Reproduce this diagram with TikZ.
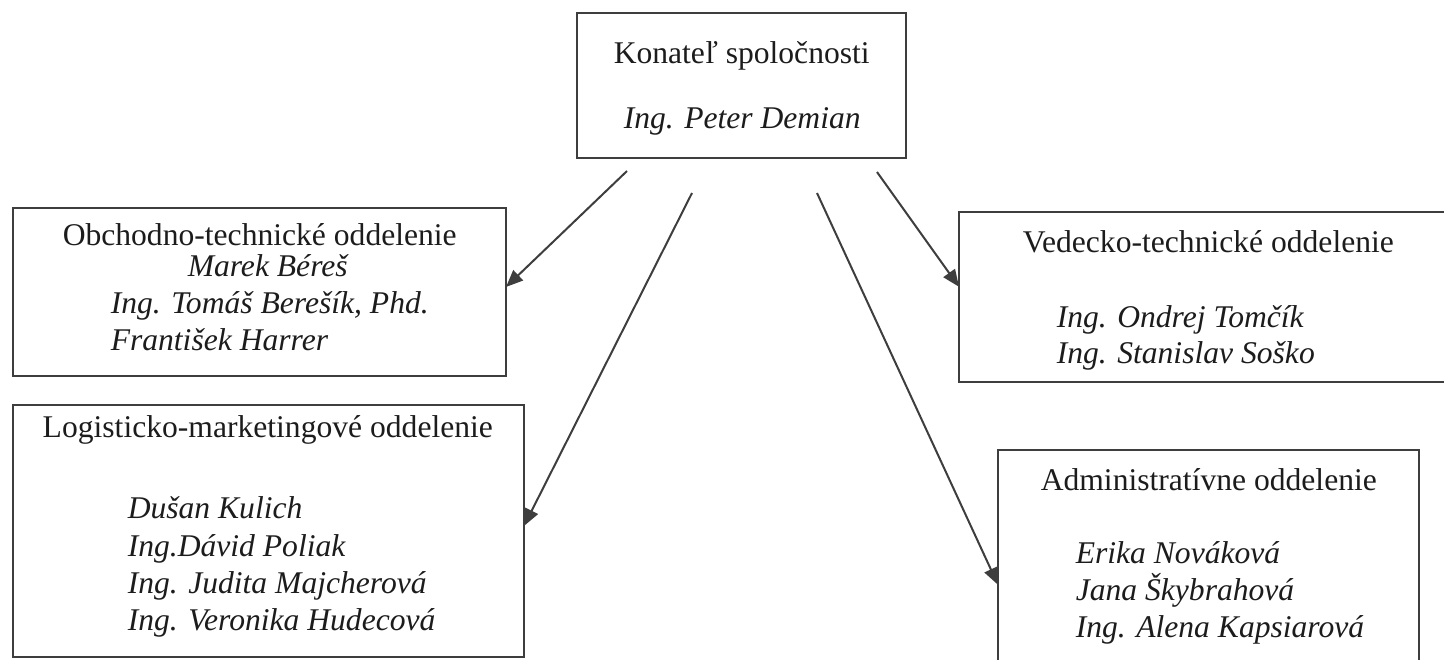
\documentclass[tikz,border=0pt]{standalone}
\usepackage{fontspec}
\setmainfont{Liberation Serif}
\usetikzlibrary{arrows.meta,calc}
\definecolor{inkgray}{RGB}{62,62,62}
\definecolor{txtgray}{RGB}{28,28,28}

\tikzset{every picture/.style={line width=0.75pt}}
\tikzset{
  dept/.style={draw=inkgray, line width=1pt, rectangle, inner sep=0pt, outer sep=0pt, anchor=north west},
  lbl/.style={anchor=base west, inner sep=0pt, text=txtgray, font=\fontsize{15.8}{19}\selectfont},
  link/.style={draw=inkgray, line width=1pt, -{Triangle[length=8.5pt,width=7pt]}}
}

\begin{document}
\begin{tikzpicture}[x=0.5pt,y=0.5pt,yscale=-1,xscale=1]
\useasboundingbox (0,0) rectangle (1444,659);
\clip (0,0) rectangle (1444,659);

%Shape: Rectangle
\draw (577,13) node [dept, minimum width=164.5pt, minimum height=72.5pt] (boss) {};
%Shape: Rectangle
\draw (13,208) node [dept, minimum width=246.5pt, minimum height=84pt] (obch) {};
%Shape: Rectangle
\draw (959,212) node [dept, minimum width=244.5pt, minimum height=85pt] (ved) {};
%Shape: Rectangle
\draw (13,405) node [dept, minimum width=255.5pt, minimum height=126pt] (logm) {};
%Shape: Rectangle
\draw (998,450) node [dept, minimum width=210.5pt, minimum height=107pt] (adm) {};

% Text Node
\draw (613,63) node [lbl] (bossT) {Konateľ spoločnosti};
% Text Node
\draw (623,128) node [lbl] (bossN) {\textit{Ing. Peter Demian}};

% Text Node
\draw (62,245) node [lbl] (obchT) {Obchodno-technické oddelenie};
% Text Node
\draw (187,276) node [lbl] (obchA) {\textit{Marek Béreš}};
% Text Node
\draw (110,313) node [lbl] (obchB) {\textit{Ing. Tomáš Berešík, Phd.}};
% Text Node
\draw (110,350) node [lbl] (obchC) {\textit{František Harrer}};

% Text Node
\draw (1022,252) node [lbl] (vedT) {Vedecko-technické oddelenie};
% Text Node
\draw (1056,327) node [lbl] (vedA) {\textit{Ing. Ondrej Tomčík}};
% Text Node
\draw (1056,363) node [lbl] (vedB) {\textit{Ing. Stanislav Soško}};

% Text Node
\draw (42,437) node [lbl] (logT) {Logisticko-marketingové oddelenie};
% Text Node
\draw (127,518) node [lbl] (logA) {\textit{Dušan Kulich}};
% Text Node
\draw (127,556) node [lbl] (logB) {\textit{Ing.Dávid Poliak}};
% Text Node
\draw (127,593) node [lbl] (logC) {\textit{Ing. Judita Majcherová}};
% Text Node
\draw (127,630) node [lbl] (logD) {\textit{Ing. Veronika Hudecová}};

% Text Node
\draw (1040,490) node [lbl] (admT) {Administratívne oddelenie};
% Text Node
\draw (1075,563) node [lbl] (admA) {\textit{Erika Nováková}};
% Text Node
\draw (1075,600) node [lbl] (admB) {\textit{Jana Škybrahová}};
% Text Node
\draw (1075,637) node [lbl] (admC) {\textit{Ing. Alena Kapsiarová}};

%Straight Lines
\coordinate (s1) at (627,171);
\coordinate (s2) at (692,193);
\coordinate (s3) at (817,193);
\coordinate (s4) at (877,172);
\draw [link] (s1) -- ($(obch.north east)!0.47!(obch.south east)$);
\draw [link] (s2) -- ($(logm.north east)!0.48!(logm.south east)$);
\draw [link] (s3) -- ($(adm.north west)!0.63!(adm.south west)$);
\draw [link] (s4) -- ($(ved.north west)!0.44!(ved.south west)$);

\end{tikzpicture}
\end{document}
